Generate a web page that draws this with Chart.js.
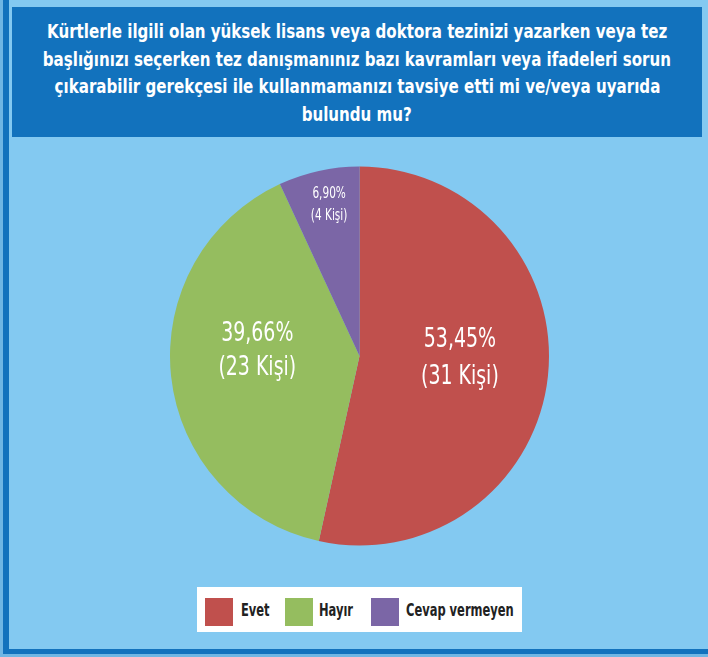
<!DOCTYPE html>
<html>
<head>
<meta charset="utf-8">
<script src="https://cdn.jsdelivr.net/npm/chart.js@4"></script>
<style>
  html, body { margin: 0; padding: 0; }
  body { width: 708px; height: 657px; background: #6fb6e4; position: relative; overflow: hidden;
         font-family: "DejaVu Sans Condensed", "Roboto", sans-serif; }
  .frame { position: absolute; left: 3px; top: 0; width: 720px; height: 649px;
           background: #83c9f1; border-left: 6px solid #1272bd; border-bottom: 5px solid #1272bd; }
  .title { position: absolute; left: 12px; top: 7px; width: 690px; height: 130px; background: #1272bd;
           color: #fff; font-size: 20px; font-weight: bold; line-height: 27.5px;
           box-sizing: border-box; padding-top: 11px;
           display: flex; flex-direction: column; align-items: center; }
  .title span { display: inline-block; white-space: nowrap; flex: none; }
  .chartBox { position: absolute; left: 170px; top: 166px; width: 379px; height: 380px; }
  .legend { position: absolute; left: 197px; top: 587px; width: 325px; height: 45px; background: #fff; }
  .box { position: absolute; top: 11px; width: 28px; height: 28px; }
  .lbl { position: absolute; top: 12px; font-size: 17px; line-height: 22px; font-weight: bold; color: #222;
         white-space: nowrap; transform-origin: left center; transform: scaleX(0.75); }
</style>
</head>
<body>
<div class="frame"></div>
<div class="title" id="title"><span>Kürtlerle ilgili olan yüksek lisans veya doktora tezinizi yazarken veya tez</span><span>başlığınızı seçerken tez danışmanınız bazı kavramları veya ifadeleri sorun</span><span>çıkarabilir gerekçesi ile kullanmamanızı tavsiye etti mi ve/veya uyarıda</span><span>bulundu mu?</span></div>
<div class="chartBox"><canvas id="pie" width="379" height="380"></canvas></div>
<div class="legend" id="legend"></div>
<script>
const answers = ['Evet', 'Hayır', 'Cevap vermeyen'];
const percents = [53.45, 39.66, 6.90];
const people = [31, 23, 4];
const sliceColors = ['#c0504d', '#95bd5f', '#7b66a6'];

// where each label sits inside its slice: [radius fraction, angle nudge in degrees, font size, line gap]
const labelPlace = [[0.53, -5, 27, 37], [0.54, 9, 27, 34], [0.81, 1, 15, 22]];
const squeeze = 0.78; // condensed look, no narrow font available

const sliceLabels = {
    id: 'sliceLabels',
    afterDatasetsDraw(chart) {
        const ctx = chart.ctx;
        const arcs = chart.getDatasetMeta(0).data;
        arcs.forEach((arc, i) => {
            const p = arc.getProps(['x', 'y', 'startAngle', 'endAngle', 'outerRadius'], true);
            const [frac, nudge, size, gap] = labelPlace[i];
            const mid = (p.startAngle + p.endAngle) / 2 + nudge * Math.PI / 180;
            const cx = p.x + Math.cos(mid) * p.outerRadius * frac;
            const cy = p.y + Math.sin(mid) * p.outerRadius * frac;
            ctx.save();
            ctx.translate(cx, cy);
            ctx.scale(squeeze, 1);
            ctx.fillStyle = '#fff';
            ctx.textAlign = 'center';
            ctx.textBaseline = 'middle';
            ctx.font = `${size}px "DejaVu Sans Condensed", sans-serif`;
            ctx.fillText(percents[i].toFixed(2).replace('.', ',') + '%', 0, -gap / 2);
            ctx.fillText(`(${people[i]} Kişi)`, 0, gap / 2);
            ctx.restore();
        });
    }
};

const chart = new Chart(document.getElementById('pie'), {
    type: 'pie',
    data: {
        labels: answers,
        datasets: [{
            data: percents,
            backgroundColor: sliceColors,
            borderWidth: 0
        }]
    },
    options: {
        responsive: false,
        animation: false,
        layout: { padding: 0 },
        plugins: {
            legend: { display: false },
            tooltip: { enabled: false }
        }
    },
    plugins: [sliceLabels]
});

// squeeze title lines so the first one spans about 620px like the original
const titleLines = document.querySelectorAll('#title span');
const k = 620 / titleLines[0].offsetWidth;
titleLines.forEach(s => { s.style.transform = `scaleX(${k})`; });

// custom legend
const boxLeft = [8, 88, 174];
const textLeft = [44, 122, 209];
document.getElementById('legend').innerHTML = answers.map((a, i) => `
    <div class="box" style="left:${boxLeft[i]}px; background-color: ${sliceColors[i]}"></div>
    <span class="lbl" style="left:${textLeft[i]}px">${a}</span>`).join('');
</script>
</body>
</html>
